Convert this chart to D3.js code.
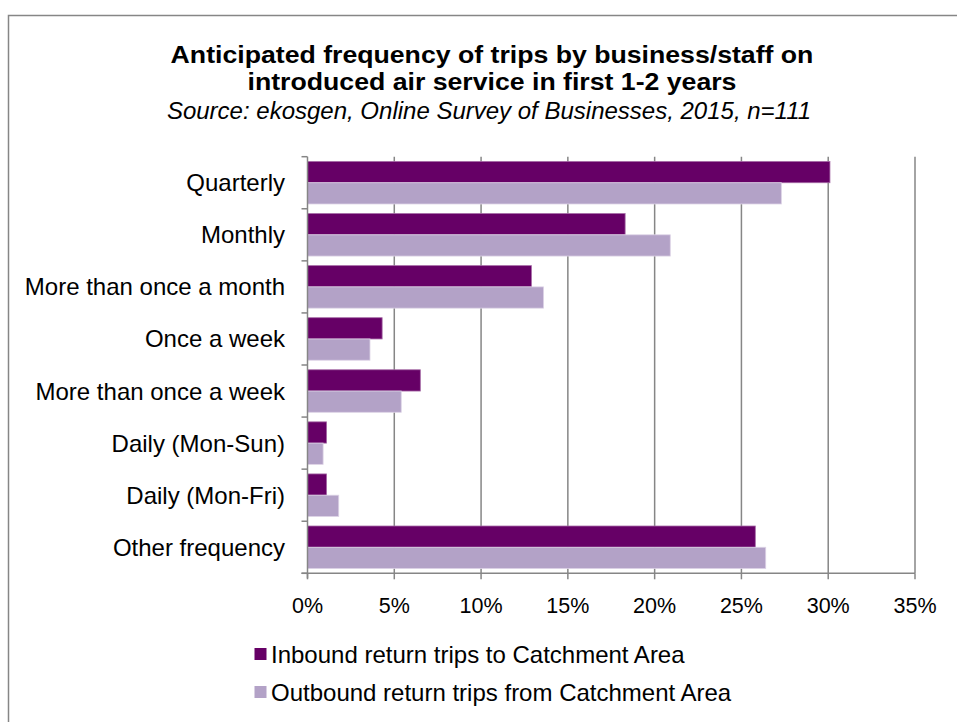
<!DOCTYPE html>
<html>
<head>
<meta charset="utf-8">
<script src="https://cdn.jsdelivr.net/npm/d3@7"></script>
<style>
  html, body { margin: 0; padding: 0; background: #fff; }
  svg { display: block; font-family: "Liberation Sans", Arial, sans-serif; }
</style>
</head>
<body>
<svg id="chart" width="957" height="722"></svg>
<script>
const categories = ["Quarterly", "Monthly", "More than once a month", "Once a week",
  "More than once a week", "Daily (Mon-Sun)", "Daily (Mon-Fri)", "Other frequency"];
const inbound  = [30.1, 18.3, 12.9, 4.3, 6.5, 1.1, 1.1, 25.8];
const outbound = [27.3, 20.9, 13.6, 3.6, 5.4, 0.9, 1.8, 26.4];
const seriesNames = ["Inbound return trips to Catchment Area", "Outbound return trips from Catchment Area"];
const seriesColors = ["#660066", "#b3a2c7"];
const xTicks = [0, 5, 10, 15, 20, 25, 30, 35];
const titleLines = ["Anticipated frequency of trips by business/staff on", "introduced air service in first 1-2 years"];
const subtitle = "Source: ekosgen, Online Survey of Businesses, 2015, n=111";

(function () {
const svg = d3.select("#chart");
const gridColor = "#868686";

// outer frame
svg.append("path")
  .attr("d", "M8.5,722 L8.5,15.5 L957,15.5")
  .attr("fill", "none").attr("stroke", gridColor).attr("stroke-width", 1.5);

// titles
const tg = svg.append("g").attr("transform", "translate(492,0) scale(1.08,1)");
tg.append("text").attr("x", 0).attr("y", 63.5).attr("text-anchor", "middle")
  .attr("font-size", 24.7).attr("font-weight", "bold").attr("fill", "#000").text(titleLines[0]);
tg.append("text").attr("x", 0).attr("y", 90.5).attr("text-anchor", "middle")
  .attr("font-size", 24.7).attr("font-weight", "bold").attr("fill", "#000").text(titleLines[1]);
svg.append("text").attr("x", 489).attr("y", 119).attr("text-anchor", "middle")
  .attr("font-size", 24).attr("font-style", "italic").attr("fill", "#000").text(subtitle);

const pLeft = 307.5, pRight = 915, pTop = 156.7, pBottom = 573.3;
const x = d3.scaleLinear().domain([0, 35]).range([pLeft, pRight]);
const y = d3.scaleBand().domain(categories).range([pTop, pBottom]).paddingInner(0).paddingOuter(0);
const inner = d3.scaleBand().domain([0, 1]).range([0, y.bandwidth()]).paddingInner(0).paddingOuter(0.225);

// gridlines
svg.append("g").selectAll("line").data(xTicks.slice(1)).join("line")
  .attr("x1", d => x(d)).attr("x2", d => x(d))
  .attr("y1", pTop).attr("y2", pBottom)
  .attr("stroke", gridColor).attr("stroke-width", 1.5);

// bars
const series = [inbound, outbound];
series.forEach((vals, si) => {
  svg.append("g").selectAll("rect").data(vals).join("rect")
    .attr("x", x(0))
    .attr("y", (d, i) => y(categories[i]) + inner(si))
    .attr("width", d => x(d) - x(0))
    .attr("height", inner.bandwidth())
    .attr("fill", seriesColors[si])
    .attr("stroke", si === 0 ? "#a66aa6" : "#ddd3e6")
    .attr("stroke-width", 0.8);
});

// y axis
const yAxis = svg.append("g").attr("transform", `translate(${pLeft},0)`);
yAxis.append("line").attr("x1", 0).attr("x2", 0).attr("y1", pTop).attr("y2", pBottom + 5)
  .attr("stroke", gridColor).attr("stroke-width", 1.5);
const yTickPos = categories.map(c => y(c)).concat([pBottom]);
yAxis.selectAll("line.tk").data(yTickPos).join("line").attr("class", "tk")
  .attr("x1", -6).attr("x2", 0).attr("y1", d => d).attr("y2", d => d)
  .attr("stroke", gridColor).attr("stroke-width", 1.5);
yAxis.selectAll("text").data(categories).join("text")
  .attr("x", -22.5).attr("y", d => y(d) + y.bandwidth() / 2 + 8.5)
  .attr("text-anchor", "end").attr("font-size", 24).attr("fill", "#000").text(d => d);

// x axis
const xAxis = svg.append("g");
xAxis.append("line").attr("x1", pLeft - 6).attr("x2", pRight).attr("y1", pBottom).attr("y2", pBottom)
  .attr("stroke", gridColor).attr("stroke-width", 1.5);
xAxis.selectAll("line.tk").data(xTicks).join("line").attr("class", "tk")
  .attr("x1", d => x(d)).attr("x2", d => x(d)).attr("y1", pBottom).attr("y2", pBottom + 6)
  .attr("stroke", gridColor).attr("stroke-width", 1.5);
xAxis.selectAll("text").data(xTicks).join("text")
  .attr("x", d => x(d)).attr("y", 613)
  .attr("text-anchor", "middle").attr("font-size", 21.5).attr("fill", "#000").text(d => d + "%");

// legend
const legend = svg.append("g");
seriesNames.forEach((name, i) => {
  const ly = 654 + i * 38;
  legend.append("rect").attr("x", 254.5).attr("y", ly - 6).attr("width", 12).attr("height", 12)
    .attr("fill", seriesColors[i]);
  legend.append("text").attr("x", 271).attr("y", ly + 8.5).attr("font-size", 24).attr("fill", "#000").text(name);
});
})();
</script>
</body>
</html>
